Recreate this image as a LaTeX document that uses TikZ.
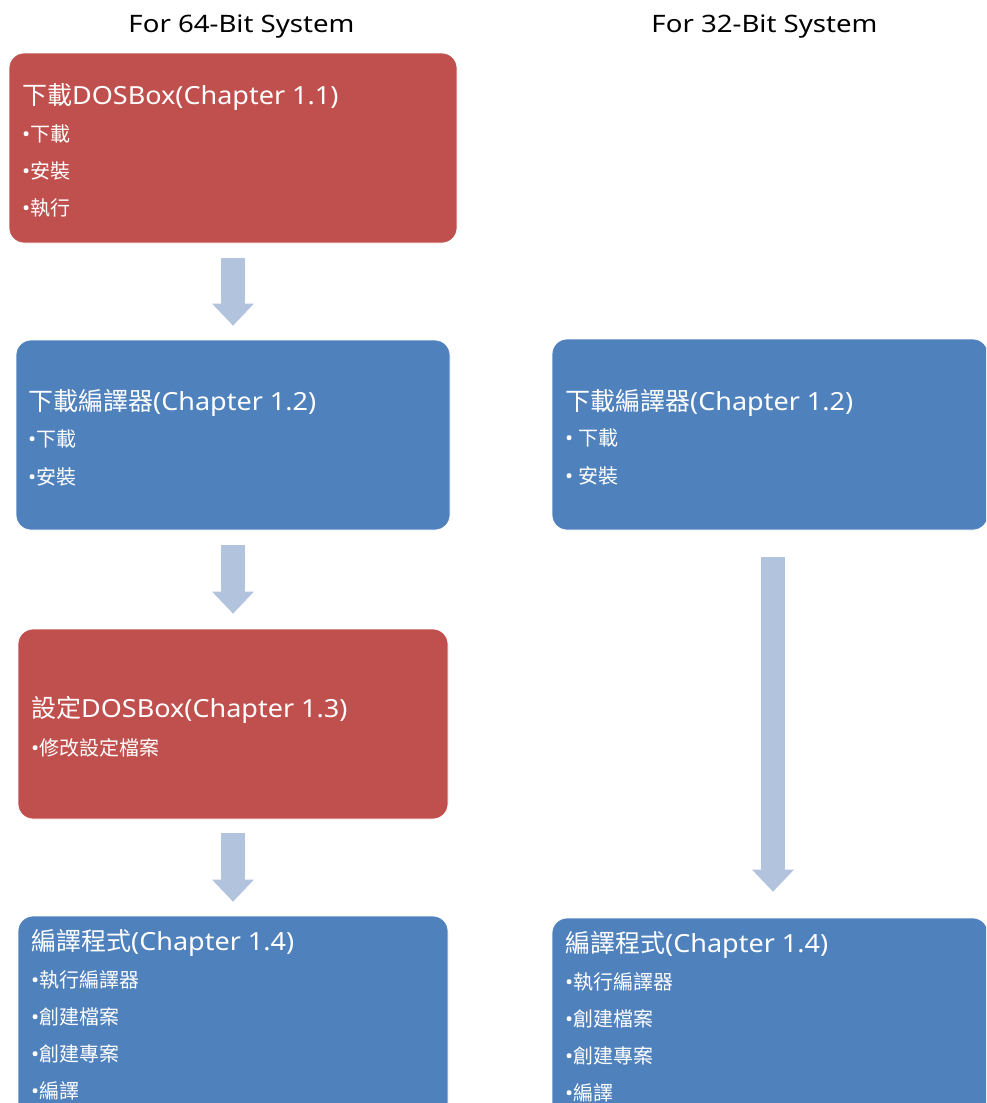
\documentclass[tikz,border=0pt]{standalone}
\usepackage{fontspec}
\setmainfont{Noto Sans}[FakeStretch=1.08]
\newfontfamily\hdrfont{Noto Sans}[FakeStretch=1.15]
\newfontfamily\cjk{Noto Sans CJK TC}
\usetikzlibrary{arrows.meta}
\definecolor{boxred}{HTML}{C0504D}
\definecolor{boxblue}{HTML}{4F81BD}
\definecolor{arrowc}{HTML}{B2C3DD}
\tikzset{
  box/.style={rectangle, rounded corners=15pt, inner sep=0pt, draw=white, line width=0.8pt},
  redbox/.style={box, fill=boxred},
  bluebox/.style={box, fill=boxblue},
  ttl/.style={inner sep=0pt, anchor=base west, text=white, font=\fontsize{25}{30}\selectfont},
  blt/.style={inner sep=0pt, anchor=base west, text=white, font=\fontsize{20}{24}\selectfont},
  hdr/.style={inner sep=0pt, anchor=base, text=black, font=\hdrfont\fontsize{24}{28}\selectfont},
  flow/.style={draw=arrowc, line width=24pt, -{Triangle[width=42pt,length=22pt,line width=0pt]}}
}
\begin{document}
\begin{tikzpicture}[x=1pt,y=-1pt]
\clip (0,0) rectangle (986,1103);
\useasboundingbox (0,0) rectangle (986,1103);
% headers
\node[hdr] (h64) at (241.5,32) {For 64-Bit System};
\node[hdr] (h32) at (764.5,32) {For 32-Bit System};
% boxes
\node[redbox, minimum width=448pt, minimum height=190pt] (b1) at (233,148) {};
\node[bluebox, minimum width=434pt, minimum height=190pt] (b2) at (233,435) {};
\node[redbox, minimum width=430pt, minimum height=190pt] (b3) at (233,724) {};
\node[bluebox, minimum width=430pt, minimum height=210pt] (b4) at (233,1021) {};
\node[bluebox, minimum width=436pt, minimum height=191pt] (b5) at (770,434.5) {};
\node[bluebox, minimum width=436pt, minimum height=210pt] (b6) at (770,1023) {};
% texts box 1
\node[ttl] (b1t) at (22,104) {{\cjk 下載}DOSBox(Chapter 1.1)};
\node[blt] (b1a) at (22,141) {•{\cjk 下載}};
\node[blt] (b1b) at (22,178) {•{\cjk 安裝}};
\node[blt] (b1c) at (22,215) {•{\cjk 執行}};
% box 2
\node[ttl] (b2t) at (28,410) {{\cjk 下載編譯器}(Chapter 1.2)};
\node[blt] (b2a) at (28,446) {•{\cjk 下載}};
\node[blt] (b2b) at (28,484) {•{\cjk 安裝}};
% box 3
\node[ttl] (b3t) at (31,717) {{\cjk 設定}DOSBox(Chapter 1.3)};
\node[blt] (b3a) at (31,755) {•{\cjk 修改設定檔案}};
% box 4
\node[ttl] (b4t) at (31,950) {{\cjk 編譯程式}(Chapter 1.4)};
\node[blt] (b4a) at (31,987) {•{\cjk 執行編譯器}};
\node[blt] (b4b) at (31,1024) {•{\cjk 創建檔案}};
\node[blt] (b4c) at (31,1061) {•{\cjk 創建專案}};
\node[blt] (b4d) at (31,1098) {•{\cjk 編譯}};
% box 5
\node[ttl] (b5t) at (565,410) {{\cjk 下載編譯器}(Chapter 1.2)};
\node[blt] (b5a) at (565,445) {• {\cjk 下載}};
\node[blt] (b5b) at (565,483) {• {\cjk 安裝}};
% box 6
\node[ttl] (b6t) at (565,952) {{\cjk 編譯程式}(Chapter 1.4)};
\node[blt] (b6a) at (565,989) {•{\cjk 執行編譯器}};
\node[blt] (b6b) at (565,1026) {•{\cjk 創建檔案}};
\node[blt] (b6c) at (565,1063) {•{\cjk 創建專案}};
\node[blt] (b6d) at (565,1100) {•{\cjk 編譯}};
% arrows
\draw[flow, shorten <=15pt, shorten >=14pt] (b1.south) -- (b2.north);
\draw[flow, shorten <=15pt, shorten >=15pt] (b2.south) -- (b3.north);
\draw[flow, shorten <=14pt, shorten >=14pt] (b3.south) -- (b4.north);
\draw[flow, shorten <=27pt, shorten >=26pt] ([xshift=3pt]b5.south) -- ([xshift=3pt]b6.north);
\end{tikzpicture}
\end{document}
